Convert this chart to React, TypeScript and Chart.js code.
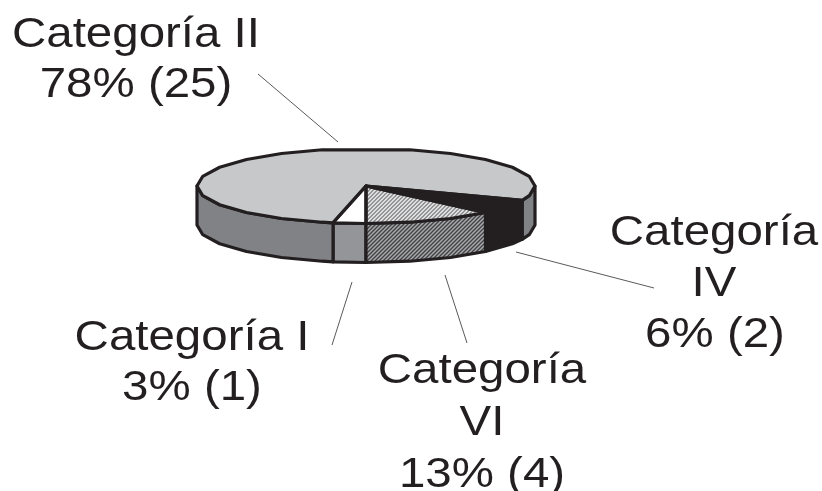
import { useEffect, useRef } from "react";
import { Chart, registerables } from "chart.js";

Chart.register(...registerables);

const categories = ["Categoría I", "Categoría II", "Categoría IV", "Categoría VI"];
const counts = [1, 25, 2, 4];

const TILT = 37.5 / 169;
const DEPTH = 39;
const FACE_Y = 186;
const TEXT_STRETCH = 1.13;
const FONT = '42px "Liberation Sans", Arial, sans-serif';
const FACET = Math.PI / 12;

// Tinted hatch tile; the y scale compensates for the tilt of the pie.
function hatch(bg: string, line: string, squash: number) {
  const tile = document.createElement("canvas");
  tile.width = 4;
  tile.height = 4;
  const c = tile.getContext("2d")!;
  c.fillStyle = bg;
  c.fillRect(0, 0, 4, 4);
  c.strokeStyle = line;
  c.lineWidth = 1.3;
  c.beginPath();
  c.moveTo(-1, 1);
  c.lineTo(1, -1);
  c.moveTo(-1, 5);
  c.lineTo(5, -1);
  c.moveTo(3, 5);
  c.lineTo(5, 3);
  c.stroke();
  const p = c.createPattern(tile, "repeat")!;
  if (squash !== 1) p.setTransform(new DOMMatrix().scale(1, squash));
  return p;
}

// Angles of the faceted rim between two slice edges.
function rimAngles(a0: number, a1: number) {
  const out = [a0];
  for (let k = Math.ceil(a0 / FACET + 1e-6); k * FACET < a1 - 1e-6; k++) {
    if (((k % 24) + 24) % 24 !== 18) out.push(k * FACET);
  }
  out.push(a1);
  return out;
}

const leaders = [
  [258, 74, 338, 142],
  [516, 252, 654, 288],
  [445, 275, 467, 343],
  [352, 282, 332, 345],
];
const labels: [string, number, number][] = [
  ["Categoría II", 136, 47],
  ["78% (25)", 136, 97],
  ["Categoría", 714, 245],
  ["IV", 714, 296],
  ["6% (2)", 715, 347],
  ["Categoría I", 192, 350],
  ["3% (1)", 192, 400],
  ["Categoría", 482, 383],
  ["VI", 482, 435],
  ["13% (4)", 482, 487],
];

export default function App() {
  const ref = useRef<HTMLCanvasElement>(null);

  useEffect(() => {
    const canvas = ref.current!;
    const sideFills = ["#939598", "#808285", "#231f20", hatch("#a7a9ac", "#414042", 1)];

    const tiltPlugin = {
      id: "tilt",
      beforeDatasetsDraw(chart: any) {
        const { ctx } = chart;
        const arcs = chart.getDatasetMeta(0).data;
        const cx = arcs[0].x;
        const cy = arcs[0].y;
        const r = arcs[0].outerRadius;
        const ry = r * TILT;
        const px = (a: number) => cx + r * Math.cos(a);
        const py = (a: number) => FACE_Y + ry * Math.sin(a);
        ctx.save();
        ctx.lineWidth = 3.2;
        ctx.lineJoin = "round";
        ctx.strokeStyle = "#231f20";
        // Side wall: the part of each slice that faces the viewer.
        const wall = (a0: number, a1: number, fill: any) => {
          if (a1 <= a0) return;
          const rim = rimAngles(a0, a1);
          ctx.beginPath();
          rim.forEach((a, i) => (i ? ctx.lineTo(px(a), py(a)) : ctx.moveTo(px(a), py(a))));
          [...rim].reverse().forEach((a) => ctx.lineTo(px(a), py(a) + DEPTH));
          ctx.closePath();
          ctx.fillStyle = fill;
          ctx.fill();
          ctx.stroke();
        };
        arcs.forEach((arc: any, i: number) => {
          for (const turn of [-2 * Math.PI, 0, 2 * Math.PI]) {
            const a0 = Math.max(arc.startAngle + turn, 0);
            const a1 = Math.min(arc.endAngle + turn, Math.PI);
            wall(a0, a1, sideFills[i]);
          }
        });
        ctx.restore();

        // Top face: slices are clipped to the faceted rim, then drawn tilted.
        ctx.save();
        ctx.beginPath();
        arcs.forEach((arc: any) => {
          ctx.moveTo(cx, FACE_Y);
          rimAngles(arc.startAngle, arc.endAngle).forEach((a) => ctx.lineTo(px(a), py(a)));
          ctx.closePath();
        });
        ctx.clip();
        ctx.translate(0, FACE_Y);
        ctx.scale(1, TILT);
        ctx.translate(0, -cy);
      },
      afterDatasetsDraw(chart: any) {
        const { ctx } = chart;
        const arcs = chart.getDatasetMeta(0).data;
        ctx.restore();

        ctx.save();
        ctx.lineWidth = 3.2;
        ctx.lineJoin = "round";
        ctx.strokeStyle = "#231f20";
        arcs.forEach((arc: any) => {
          const r = arc.outerRadius;
          ctx.beginPath();
          ctx.moveTo(arc.x, FACE_Y);
          rimAngles(arc.startAngle, arc.endAngle).forEach((a) =>
            ctx.lineTo(arc.x + r * Math.cos(a), FACE_Y + r * TILT * Math.sin(a))
          );
          ctx.closePath();
          ctx.stroke();
        });
        ctx.restore();

        ctx.save();
        ctx.strokeStyle = "#58595b";
        ctx.lineWidth = 1;
        for (const [x0, y0, x1, y1] of leaders) {
          ctx.beginPath();
          ctx.moveTo(x0, y0);
          ctx.lineTo(x1, y1);
          ctx.stroke();
        }
        ctx.fillStyle = "#231f20";
        ctx.font = FONT;
        ctx.textAlign = "center";
        ctx.textBaseline = "alphabetic";
        for (const [text, x, y] of labels) {
          ctx.save();
          ctx.translate(x, y);
          ctx.scale(TEXT_STRETCH, 1);
          ctx.fillText(text, 0, 0);
          ctx.restore();
        }
        ctx.restore();
      },
    };

    const chart = new Chart(canvas, {
      type: "pie",
      data: {
        labels: categories,
        datasets: [
          {
            data: counts,
            backgroundColor: ["#ffffff", "#c7c8ca", "#231f20", hatch("#ffffff", "#6d6e71", 1 / TILT)],
            borderWidth: 0,
          },
        ],
      },
      options: {
        responsive: false,
        animation: false,
        rotation: 180,
        layout: { padding: { left: 197, right: 287, top: 77, bottom: 76 } },
        plugins: { legend: { display: false }, tooltip: { enabled: false } },
      },
      plugins: [tiltPlugin],
    });
    return () => chart.destroy();
  }, []);

  return (
    <div style={{ position: "absolute", left: 0, top: 0, width: 822, height: 491, background: "#fff" }}>
      <canvas ref={ref} width={822} height={491} style={{ display: "block" }} />
    </div>
  );
}
